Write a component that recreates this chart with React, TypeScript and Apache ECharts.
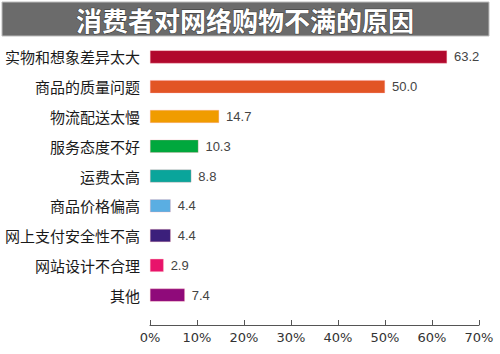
import React, { useEffect, useRef } from "react";
import * as echarts from "echarts";

const categories = [
  "实物和想象差异太大",
  "商品的质量问题",
  "物流配送太慢",
  "服务态度不好",
  "运费太高",
  "商品价格偏高",
  "网上支付安全性不高",
  "网站设计不合理",
  "其他",
];
const values = [63.2, 50.0, 14.7, 10.3, 8.8, 4.4, 4.4, 2.9, 7.4];
const colors = [
  "#b1082d",
  "#e25525",
  "#f09c00",
  "#00a83d",
  "#0aa59b",
  "#5aaee2",
  "#3b1f7b",
  "#e8136b",
  "#8f0a7a",
];
const title = "消费者对网络购物不满的原因";
const xTicks = [0, 10, 20, 30, 40, 50, 60, 70];

export default function App() {
  const ref = useRef<HTMLDivElement>(null);
  useEffect(() => {
    document.body.style.margin = "0";
    if (!ref.current) return;
    const chart = echarts.init(ref.current, null, { renderer: "svg" });
    chart.setOption({
      animation: false,
      backgroundColor: "#ffffff",
      graphic: [
        {
          type: "rect",
          shape: { x: 2, y: 2, width: 487, height: 34 },
          style: { fill: "#6b6b6b", stroke: "#bdbdbd", lineWidth: 1 },
        },
        {
          type: "text",
          x: 245,
          y: 19,
          style: {
            text: title,
            fill: "#ffffff",
            font: 'bold 26px "Noto Sans CJK SC"',
            align: "center",
            verticalAlign: "middle",
            stroke: "#3a3a3a",
            lineWidth: 1,
          },
        },
      ],
      grid: { left: 150, right: 21, top: 42, bottom: 44 },
      xAxis: {
        type: "value",
        min: xTicks[0],
        max: xTicks[xTicks.length - 1],
        interval: 10,
        offset: 15,
        splitLine: { show: false },
        axisLine: { show: true, lineStyle: { color: "#555555", width: 1 } },
        axisTick: { show: true, inside: true, length: 5, lineStyle: { color: "#555555" } },
        axisLabel: {
          formatter: "{value}%",
          color: "#333333",
          fontSize: 13,
          fontFamily: "DejaVu Sans",
          margin: 6,
        },
      },
      yAxis: {
        type: "category",
        data: categories,
        inverse: true,
        axisLine: { show: false },
        axisTick: { show: false },
        axisLabel: {
          color: "#1a1a1a",
          fontSize: 15,
          fontFamily: "Noto Sans CJK SC",
          margin: 10,
        },
      },
      series: [
        {
          type: "bar",
          data: values.map((v, i) => ({
            value: v,
            itemStyle: { color: colors[i], borderColor: "rgba(255,160,170,0.6)", borderWidth: 0.5 },
          })),
          barWidth: 13,
          label: {
            show: true,
            position: "right",
            distance: 7,
            formatter: (p: any) => Number(p.value).toFixed(1),
            color: "#444444",
            fontSize: 13,
            fontFamily: "Liberation Sans",
          },
        },
      ],
    });
    return () => chart.dispose();
  }, []);
  return <div ref={ref} style={{ width: 500, height: 354 }} />;
}
